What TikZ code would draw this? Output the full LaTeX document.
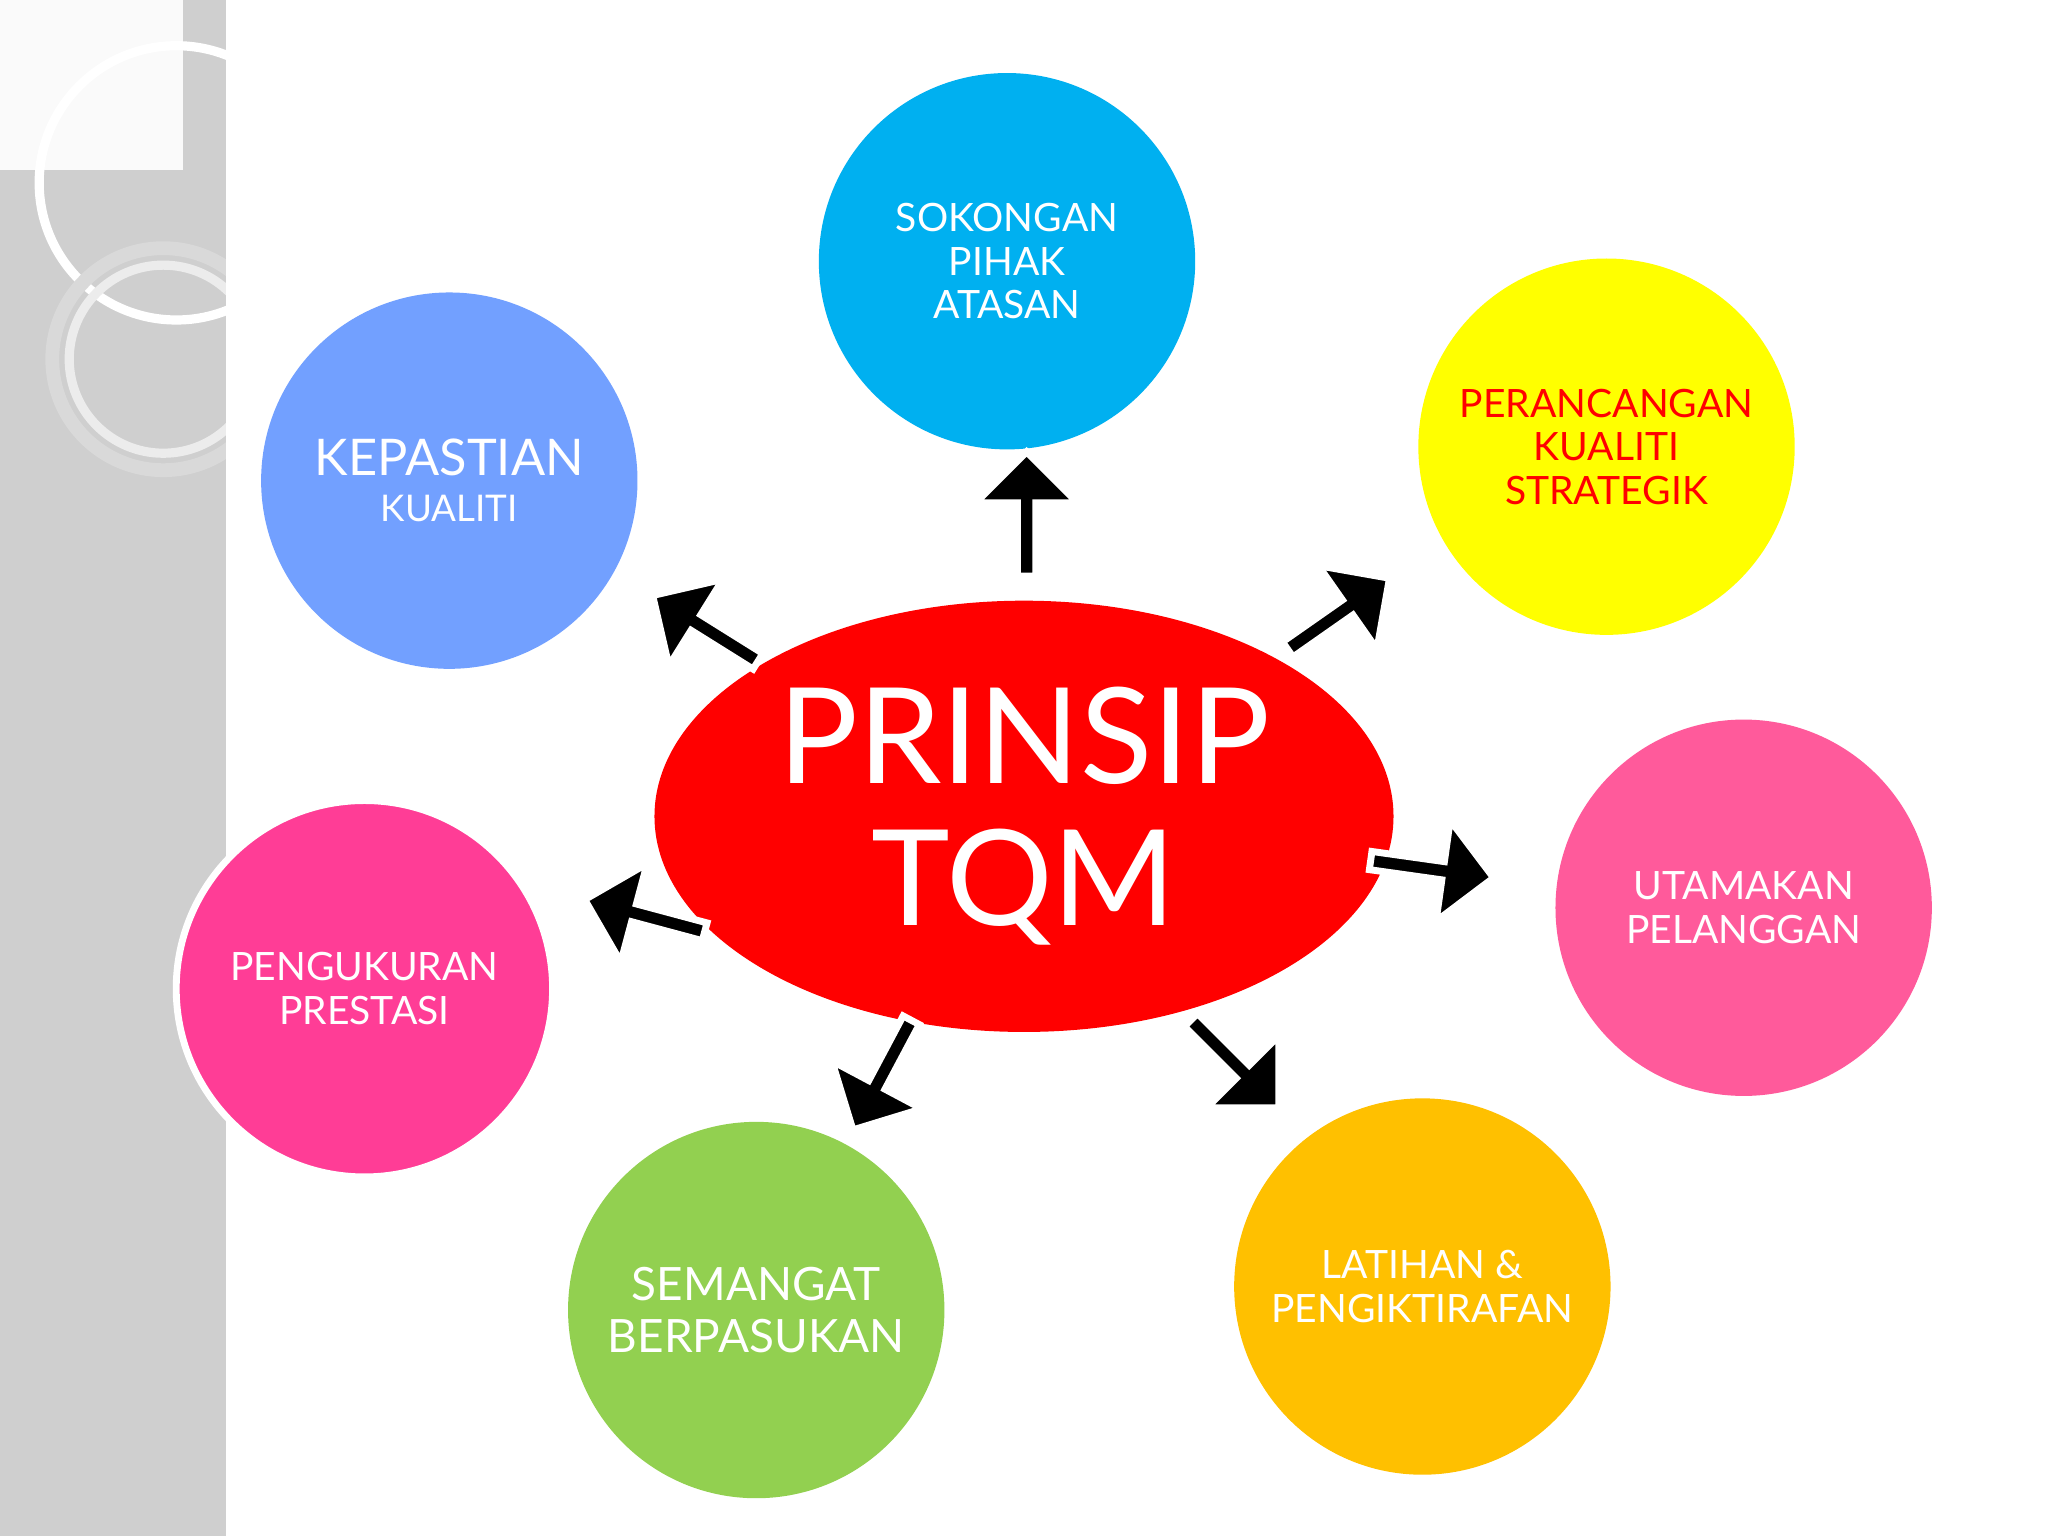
\documentclass[tikz,border=0pt]{standalone}
\usepackage{fontspec}
\setmainfont{Lato}
\usetikzlibrary{shapes.arrows,shapes.geometric}
\definecolor{cSok}{HTML}{00B0F0}
\definecolor{cPer}{HTML}{FFFF00}
\definecolor{cUta}{HTML}{FF5A9B}
\definecolor{cLat}{HTML}{FFC000}
\definecolor{cSem}{HTML}{92D050}
\definecolor{cPen}{HTML}{FF3D96}
\definecolor{cKep}{HTML}{72A0FF}
\definecolor{cRed}{HTML}{FF0000}
\definecolor{strip}{HTML}{CFCFCF}
\tikzset{
 bub/.style={circle,minimum size=2.88cm,inner sep=0pt,align=center,text=white,font=\fontsize{8.5}{9.5}\selectfont},
 blk/.style={single arrow,fill=black,draw=white,line width=1.5pt,minimum height=0.95cm,minimum width=0.78cm,single arrow head extend=0.12cm,inner sep=0pt}
}
\begin{document}
\begin{tikzpicture}[x=0.01cm,y=-0.01cm]
\useasboundingbox (0,0) rectangle (1568,1176);
\fill[white] (0,0) rectangle (1568,1176);
\fill[strip] (0,0) rectangle (173,1176);
\begin{scope}
\clip (0,0) rectangle (173,1176);
\fill[white!90!strip] (0,0) rectangle (140,130);
\draw[white,line width=2pt] (135,140) circle (105);
\draw[white!70!gray,line width=3pt] (125,275) circle (85);
\draw[white!85!gray,line width=2pt] (125,275) circle (72);
\end{scope}
\node[bub,fill=cSok] (sok) at (771,200) {SOKONGAN\\PIHAK\\ATASAN};
\node[bub,fill=cPer,text=red] (per) at (1230,342) {PERANCANGAN\\KUALITI\\STRATEGIK};
\node[bub,fill=cUta] (uta) at (1335,695) {UTAMAKAN\\PELANGGAN};
\node[bub,fill=cLat] (lat) at (1089,985) {LATIHAN \&\\PENGIKTIRAFAN};
\node[bub,fill=cSem,font=\fontsize{10}{11.5}\selectfont] (sem) at (579,1003) {SEMANGAT\\BERPASUKAN};
\node[bub,fill=cPen,draw=white,line width=1.5pt] (pen) at (279,757) {PENGUKURAN\\PRESTASI};
\node[bub,fill=cKep,font=\fontsize{11}{10}\selectfont] (kep) at (344,368) {KEPASTIAN\\{\fontsize{8}{9}\selectfont KUALITI}};
\node[ellipse,fill=cRed,minimum width=4.64cm,minimum height=3.3cm,text=white,align=center,font=\fontsize{29}{31}\selectfont] (tqm) at (784,625) {PRINSIP\\TQM};
\node[blk,rotate=90] (a1) at (786,397) {};
\node[blk,rotate=35] (a2) at (1022,472) {};
\node[blk,rotate=-8] (a3) at (1093,665) {};
\node[blk,rotate=-45] (a4) at (943,812) {};
\node[blk,rotate=-118] (a5) at (677,820) {};
\node[blk,rotate=165] (a6) at (497,702) {};
\node[blk,rotate=148] (a7) at (543,483) {};
\end{tikzpicture}
\end{document}
